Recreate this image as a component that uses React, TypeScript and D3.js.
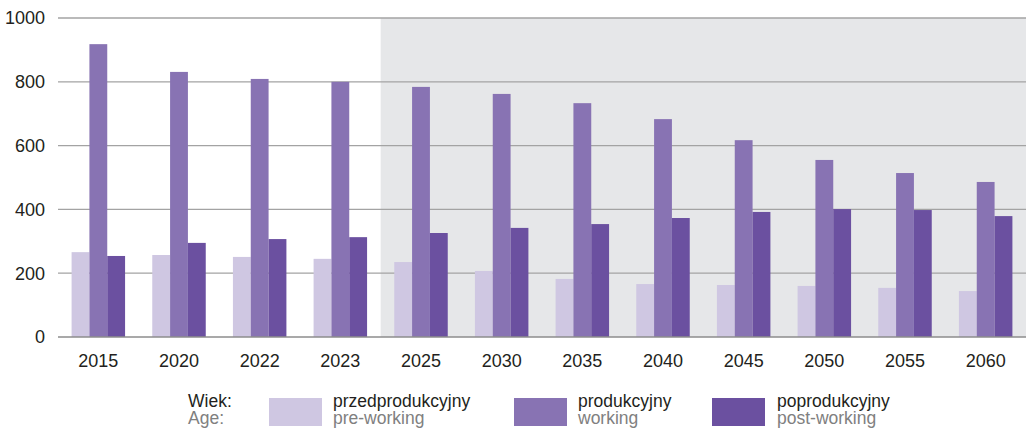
import React from "react";
import * as d3 from "d3";

const years = ["2015", "2020", "2022", "2023", "2025", "2030", "2035", "2040", "2045", "2050", "2055", "2060"];
const preWorking = [266, 257, 251, 245, 235, 207, 182, 166, 163, 160, 154, 144];
const working = [918, 831, 809, 800, 784, 762, 733, 683, 617, 555, 514, 486];
const postWorking = [254, 295, 307, 313, 326, 342, 354, 373, 392, 401, 398, 379];
const yTicks = [0, 200, 400, 600, 800, 1000];
const projectionStart = "2025";

const seriesNames = ["pre", "work", "post"];
const seriesColors = ["#cfc7e2", "#8873b3", "#6b50a0"];
const legendPl = ["przedprodukcyjny", "produkcyjny", "poprodukcyjny"];
const legendEn = ["pre-working", "working", "post-working"];

const W = 1026;
const H = 431;
const left = 58;
const right = 1026;
const top = 18;
const bottom = 337;
const font = "'Liberation Sans', Arial, sans-serif";

export default function App() {
  const x0 = d3.scaleBand<string>().domain(years).range([left, right]).paddingInner(0.337).paddingOuter(0.1685);
  const x1 = d3.scaleBand<string>().domain(seriesNames).range([0, x0.bandwidth()]);
  const y = d3.scaleLinear().domain([0, 1000]).range([bottom, top]);
  const data = [preWorking, working, postWorking];
  const shadeX = (x0(projectionStart) as number) - (x0.step() * 0.337) / 2;

  const legendItems = [
    { sx: 269, tx: 333 },
    { sx: 514, tx: 578 },
    { sx: 712, tx: 777 },
  ];

  return (
    <svg width={W} height={H} style={{ position: "absolute", left: 0, top: 0, background: "#fff" }} fontFamily={font}>
      <rect x={shadeX} y={y(1000)} width={right - shadeX} height={y(0) - y(1000)} fill="#e6e7e9" />
      {yTicks.filter((t) => t > 0).map((t) => (
        <line key={t} x1={left} x2={right} y1={y(t)} y2={y(t)} stroke="#a3a3a3" strokeWidth={1.3} />
      ))}
      {years.map((yr, i) => (
        <g key={yr} transform={`translate(${x0(yr)},0)`}>
          {seriesNames.map((s, j) => (
            <rect
              key={s}
              x={x1(s)}
              y={y(data[j][i])}
              width={x1.bandwidth()}
              height={y(0) - y(data[j][i])}
              fill={seriesColors[j]}
            />
          ))}
        </g>
      ))}
      <line x1={left} x2={right} y1={y(0)} y2={y(0)} stroke="#8c8c8c" strokeWidth={1.5} />
      {yTicks.map((t) => (
        <text key={t} x={45} y={y(t)} dy="0.35em" textAnchor="end" fontSize={18} fill="#231f20">
          {t}
        </text>
      ))}
      {years.map((yr) => (
        <text key={yr} x={(x0(yr) as number) + x0.bandwidth() / 2} y={367} textAnchor="middle" fontSize={18} fill="#231f20">
          {yr}
        </text>
      ))}
      <text x={188} y={407} fontSize={17.5} fill="#231f20">Wiek:</text>
      <text x={188} y={424} fontSize={17.5} fill="#808080">Age:</text>
      {legendItems.map((it, j) => (
        <g key={j}>
          <rect x={it.sx} y={398} width={53} height={28} fill={seriesColors[j]} />
          <text x={it.tx} y={407} fontSize={17.5} fill="#231f20">{legendPl[j]}</text>
          <text x={it.tx} y={424} fontSize={17.5} fill="#808080">{legendEn[j]}</text>
        </g>
      ))}
    </svg>
  );
}
